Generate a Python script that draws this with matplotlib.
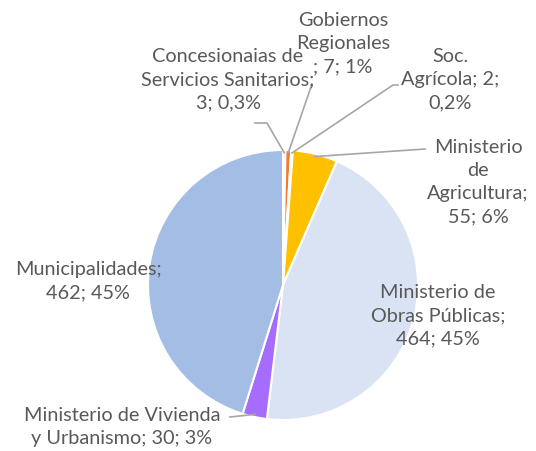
import matplotlib
matplotlib.use("Agg")
import matplotlib.pyplot as plt
import numpy as np

categories = ["Concesionaias de\nServicios Sanitarios;\n3; 0,3%",
              "Gobiernos\nRegionales\n; 7; 1%",
              "Soc.\nAgrícola; 2;\n0,2%",
              "Ministerio\nde\nAgricultura;\n55; 6%",
              "Ministerio de\nObras Públicas;\n464; 45%",
              "Ministerio de Vivienda\ny Urbanismo; 30; 3%",
              "Municipalidades;\n462; 45%"]
values = [3, 7, 2, 55, 464, 30, 462]
colors = ["#A5A5A5", "#ED7D31", "#D9D9D9", "#FFC000", "#DAE3F3", "#A66BFF", "#A3BDE4"]

W, H = 536, 451
fig = plt.figure(figsize=(W / 100, H / 100), dpi=100)
ax = fig.add_axes([0, 0, 1, 1])

cx, cy, R = 283, H - 285, 135
wedges, _ = ax.pie(values, colors=colors, startangle=90, counterclock=False,
                   center=(cx, cy), radius=R, frame=True,
                   wedgeprops=dict(edgecolor="white", linewidth=1.5))
ax.set_xlim(0, W)
ax.set_ylim(0, H)
ax.set_aspect("equal")
ax.axis("off")

font = dict(family="Lato", size=14.3, color="#595959", ha="center", va="center",
            linespacing=1.45)

# label positions (pixel coords from top)
label_pos = [(228, 80), (343, 44), (450, 80), (478, 182), (438, 316), (122, 427), (88, 281)]
for lab, (x, y) in zip(categories, label_pos):
    ax.text(x, H - y, lab, **font)

def wedge_pt(i, frac=1.0):
    w = wedges[i]
    a = np.deg2rad((w.theta1 + w.theta2) / 2)
    return cx + R * frac * np.cos(a), cy + R * frac * np.sin(a)

lc = dict(color="#A6A6A6", lw=1.2)
leaders = {0: [(255, 123), (267, 123)],
           1: [(312, 84)],
           2: [(398, 85), (393, 85)],
           3: [(425, 149)],
           5: [(230, 417)]}
for i, pts in leaders.items():
    px, py = wedge_pt(i, 0.98)
    xs = [p[0] for p in pts] + [px]
    ys = [H - p[1] for p in pts] + [py]
    ax.plot(xs, ys, **lc)

fig.savefig("out.png", dpi=100)
